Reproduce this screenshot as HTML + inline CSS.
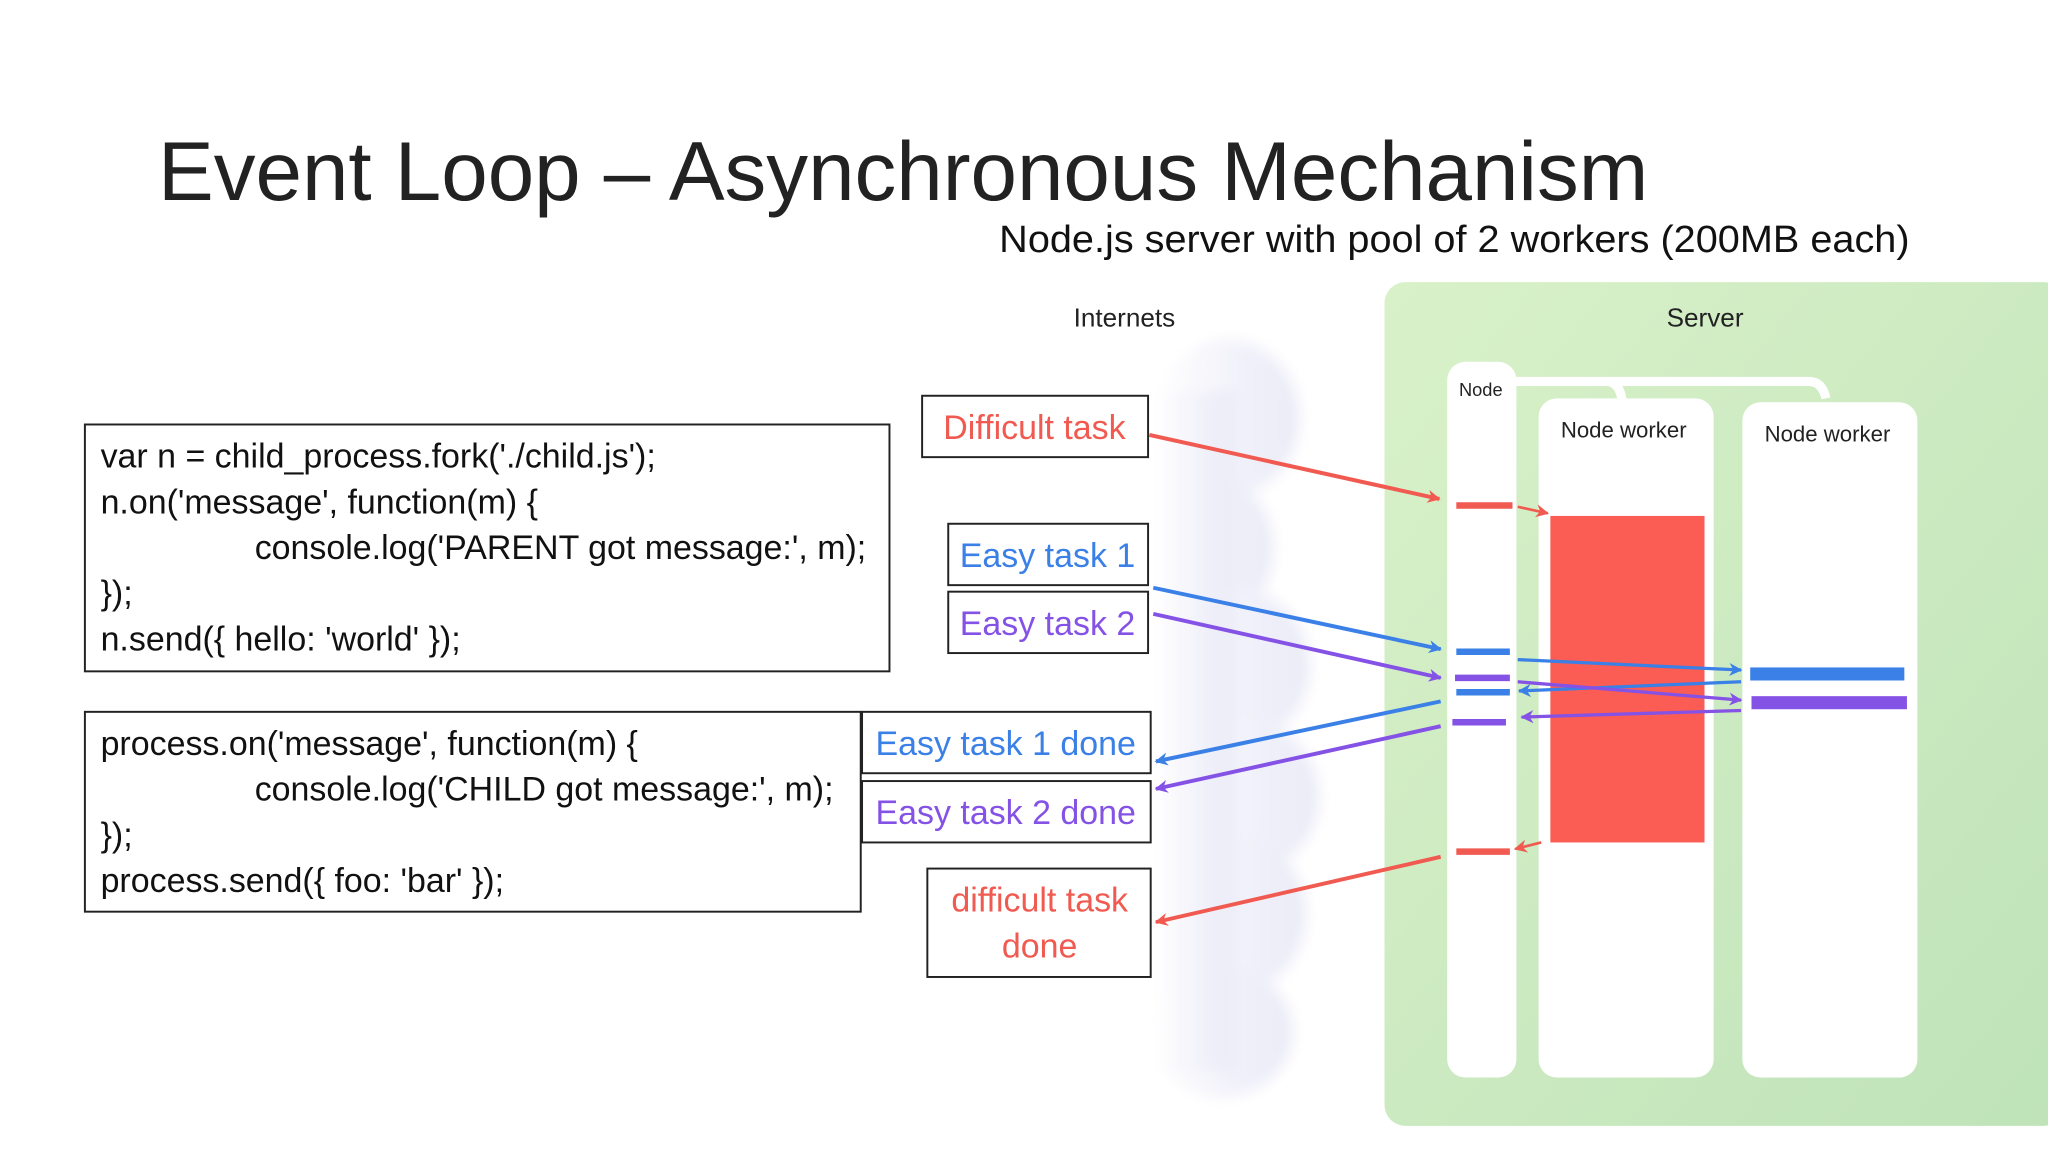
<!DOCTYPE html>
<html><head><meta charset="utf-8"><style>
html,body{margin:0;padding:0;background:#fff;}
svg{display:block;}
text{font-family:"Liberation Sans",sans-serif;}
</style></head><body>
<svg width="2048" height="1152" viewBox="0 0 1568 882" xmlns="http://www.w3.org/2000/svg">
<defs>
<linearGradient id="g" x1="0" y1="0" x2="1" y2="1"><stop offset="0" stop-color="#d9f1c9"/><stop offset="1" stop-color="#bfe3b9"/></linearGradient>
<linearGradient id="cl" x1="0" y1="0" x2="1" y2="0"><stop offset="0" stop-color="#ffffff"/><stop offset="0.6" stop-color="#f1f1fa"/><stop offset="1" stop-color="#ebebf7"/></linearGradient>
<filter id="blur"><feGaussianBlur stdDeviation="5"/></filter>
<marker id="ar" markerWidth="10" markerHeight="10" refX="9" refY="5" orient="auto" markerUnits="userSpaceOnUse"><path d="M0,0 L10,5 L0,10 L3,5z" fill="#f05a50"/></marker>
<marker id="ab" markerWidth="10" markerHeight="10" refX="9" refY="5" orient="auto" markerUnits="userSpaceOnUse"><path d="M0,0 L10,5 L0,10 L3,5z" fill="#3a80e6"/></marker>
<marker id="ap" markerWidth="10" markerHeight="10" refX="9" refY="5" orient="auto" markerUnits="userSpaceOnUse"><path d="M0,0 L10,5 L0,10 L3,5z" fill="#8552e6"/></marker>
</defs>
<text x="121" y="153" font-size="64" fill="#222" textLength="1141" lengthAdjust="spacingAndGlyphs">Event Loop – Asynchronous Mechanism</text>
<text x="765" y="193" font-size="29" fill="#111" textLength="697" lengthAdjust="spacingAndGlyphs">Node.js server with pool of 2 workers (200MB each)</text>
<!-- clouds -->
<g filter="url(#blur)" fill="url(#cl)">
<ellipse cx="940" cy="320" rx="55" ry="60"/><ellipse cx="930" cy="420" rx="45" ry="55"/><ellipse cx="945" cy="510" rx="58" ry="60"/>
<ellipse cx="950" cy="610" rx="60" ry="60"/><ellipse cx="945" cy="700" rx="55" ry="60"/><ellipse cx="935" cy="790" rx="55" ry="50"/>
<rect x="885" y="300" width="60" height="520"/>
</g>
<text x="822" y="250" font-size="20" fill="#222">Internets</text>
<rect x="1060" y="216" width="520" height="646" rx="16" fill="url(#g)"/>
<text x="1276" y="250" font-size="20" fill="#222">Server</text>
<path d="M1150,292 H1385 Q1395,292 1398,305 M1230,292 Q1240,292 1242,307" stroke="#fff" stroke-width="7" fill="none"/>
<rect x="1108" y="277" width="53" height="548" rx="14" fill="#fff"/>
<rect x="1178" y="305" width="134" height="520" rx="14" fill="#fff"/>
<rect x="1334" y="308" width="134" height="517" rx="14" fill="#fff"/>
<text x="1117" y="303" font-size="14" fill="#222">Node</text>
<text x="1195" y="335" font-size="17" fill="#222">Node worker</text>
<text x="1351" y="338" font-size="17" fill="#222">Node worker</text>
<rect x="1187" y="395" width="118" height="250" fill="#fb5c53"/>
<g stroke-width="5">
<line x1="1115" y1="387" x2="1158" y2="387" stroke="#f05a50"/>
<line x1="1115" y1="499" x2="1156" y2="499" stroke="#3a80e6"/>
<line x1="1114" y1="519" x2="1156" y2="519" stroke="#8552e6"/>
<line x1="1115" y1="530" x2="1156" y2="530" stroke="#3a80e6"/>
<line x1="1112" y1="553" x2="1153" y2="553" stroke="#8552e6"/>
<line x1="1115" y1="652" x2="1156" y2="652" stroke="#f05a50"/>
</g>
<rect x="1340" y="511" width="118" height="10" fill="#3a80e6"/>
<rect x="1341" y="533" width="119" height="10" fill="#8552e6"/>
<g stroke-width="3" fill="none">
<line x1="880" y1="333" x2="1102" y2="382" stroke="#f05a50" marker-end="url(#ar)"/>
<line x1="1162" y1="388" x2="1185" y2="393" stroke="#f05a50" stroke-width="2" marker-end="url(#ar)"/>
<line x1="883" y1="450" x2="1103" y2="497" stroke="#3a80e6" marker-end="url(#ab)"/>
<line x1="883" y1="470" x2="1103" y2="519" stroke="#8552e6" marker-end="url(#ap)"/>
<line x1="1103" y1="537" x2="885" y2="583" stroke="#3a80e6" marker-end="url(#ab)"/>
<line x1="1103" y1="556" x2="885" y2="604" stroke="#8552e6" marker-end="url(#ap)"/>
<line x1="1103" y1="656" x2="885" y2="706" stroke="#f05a50" marker-end="url(#ar)"/>
<line x1="1180" y1="645" x2="1160" y2="650" stroke="#f05a50" stroke-width="2" marker-end="url(#ar)"/>
<line x1="1162" y1="505" x2="1333" y2="513" stroke="#3a80e6" stroke-width="2.5" marker-end="url(#ab)"/>
<line x1="1333" y1="522" x2="1163" y2="529" stroke="#3a80e6" stroke-width="2.5" marker-end="url(#ab)"/>
<line x1="1162" y1="522" x2="1333" y2="536" stroke="#8552e6" stroke-width="2.5" marker-end="url(#ap)"/>
<line x1="1333" y1="544" x2="1165" y2="549" stroke="#8552e6" stroke-width="2.5" marker-end="url(#ap)"/>
</g>
<g fill="#fff" stroke="#222" stroke-width="1.5">
<rect x="706" y="303" width="173" height="47"/>
<rect x="726" y="401" width="153" height="47"/>
<rect x="726" y="453" width="153" height="47"/>
<rect x="660" y="545" width="221" height="47"/>
<rect x="660" y="598" width="221" height="47"/>
<rect x="710" y="665" width="171" height="83"/>
<rect x="65" y="325" width="616" height="189"/>
<rect x="65" y="545" width="594" height="153"/>
</g>
<g font-size="26" text-anchor="middle">
<text x="792" y="336" fill="#f05a50">Difficult task</text>
<text x="802" y="434" fill="#3a80e6">Easy task 1</text>
<text x="802" y="486" fill="#8552e6">Easy task 2</text>
<text x="770" y="578" fill="#3a80e6">Easy task 1 done</text>
<text x="770" y="631" fill="#8552e6">Easy task 2 done</text>
<text x="796" y="698" fill="#f05a50">difficult task</text>
<text x="796" y="733" fill="#f05a50">done</text>
</g>
<g font-size="26" fill="#111">
<text x="77" y="358">var n = child_process.fork('./child.js');</text>
<text x="77" y="393">n.on('message', function(m) {</text>
<text x="195" y="428">console.log('PARENT got message:', m);</text>
<text x="77" y="463">});</text>
<text x="77" y="498">n.send({ hello: 'world' });</text>
<text x="77" y="578">process.on('message', function(m) {</text>
<text x="195" y="613">console.log('CHILD got message:', m);</text>
<text x="77" y="648">});</text>
<text x="77" y="683">process.send({ foo: 'bar' });</text>
</g>
</svg>
</body></html>
